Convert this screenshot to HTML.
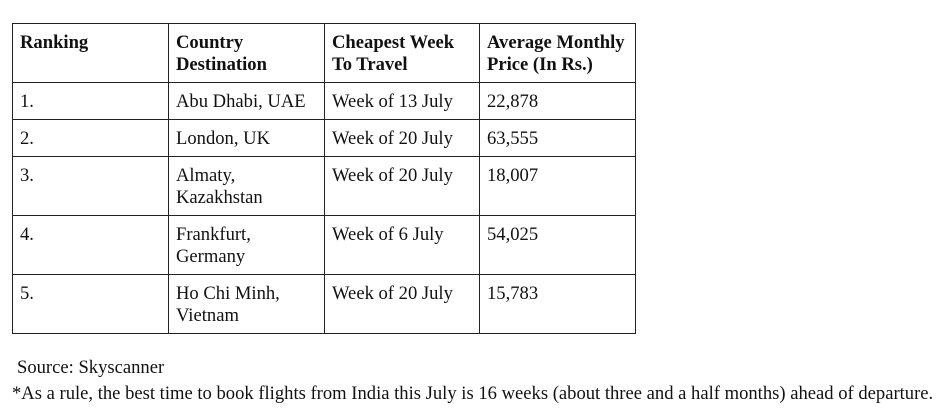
<!DOCTYPE html>
<html><head><meta charset="utf-8"><style>
body{margin:0;width:947px;height:415px;background:#fff;position:relative;font-family:"Liberation Serif",serif;color:#111;}
table{position:absolute;left:12px;top:23px;border-collapse:collapse;font-size:18.6px;line-height:22px;table-layout:fixed;}
td{border:1px solid #222;vertical-align:top;padding:8px 7px 0 7px;box-sizing:border-box;white-space:nowrap;}
th{border:1px solid #222;vertical-align:top;padding:8px 7px 0 7px;text-align:left;font-weight:bold;box-sizing:border-box;white-space:nowrap;}
.c1{width:156px}.c2{width:156px}.c3{width:155px}.c4{width:156px}
.note{position:absolute;left:17px;font-size:18.6px;white-space:nowrap;}
</style></head><body>
<table>
<tr style="height:59px"><th class="c1">Ranking</th><th class="c2">Country<br>Destination</th><th class="c3">Cheapest Week<br>To Travel</th><th class="c4">Average Monthly<br>Price (In Rs.)</th></tr>
<tr style="height:37px"><td>1.</td><td>Abu Dhabi, UAE</td><td>Week of 13 July</td><td>22,878</td></tr>
<tr style="height:37px"><td>2.</td><td>London, UK</td><td>Week of 20 July</td><td>63,555</td></tr>
<tr style="height:59px"><td>3.</td><td>Almaty,<br>Kazakhstan</td><td>Week of 20 July</td><td>18,007</td></tr>
<tr style="height:59px"><td>4.</td><td>Frankfurt,<br>Germany</td><td>Week of 6 July</td><td>54,025</td></tr>
<tr style="height:59px"><td>5.</td><td>Ho Chi Minh,<br>Vietnam</td><td>Week of 20 July</td><td>15,783</td></tr>
</table>
<div class="note" style="top:357px">Source: Skyscanner</div>
<div class="note" style="top:383px;left:12px">*As a rule, the best time to book flights from India this July is 16 weeks (about three and a half months) ahead of departure.</div>
</body></html>
